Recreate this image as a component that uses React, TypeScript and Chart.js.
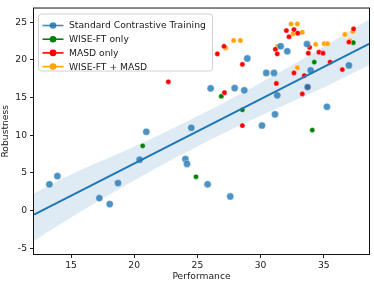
import React, { useEffect, useRef } from "react";
import { Chart, registerables } from "chart.js";

Chart.register(...registerables);

// Standard Contrastive Training
const sctX = [13.29, 13.92, 17.24, 18.06, 18.72, 20.43, 20.96, 24.05, 24.18, 24.52, 25.81, 26.05, 27.6, 27.95, 28.71, 28.95, 30.11, 30.45, 31.06, 31.14, 31.32, 31.59, 32.11, 33.67, 33.72, 33.96, 35.25, 36.99];
const sctY = [3.49, 4.58, 1.66, 0.87, 3.66, 6.76, 10.47, 6.85, 6.2, 11.0, 3.49, 16.23, 1.88, 16.27, 15.97, 20.2, 11.3, 18.28, 18.28, 12.78, 15.31, 21.82, 21.16, 22.12, 16.4, 18.63, 13.79, 19.28];
// WISE-FT only
const wiseX = [20.67, 24.89, 26.89, 28.56, 34.09, 34.25, 37.34];
const wiseY = [8.6, 4.49, 15.18, 13.39, 10.69, 19.72, 22.3];
// MASD only
const masdX = [22.7, 26.58, 27.11, 27.14, 28.56, 28.56, 31.17, 31.25, 31.32, 32.04, 32.25, 32.64, 32.64, 32.94, 33.3, 33.46, 33.72, 33.78, 33.88, 34.62, 34.94, 35.5, 36.47, 36.99, 37.36];
const masdY = [17.1, 20.81, 21.82, 15.66, 19.42, 11.3, 21.42, 16.88, 20.81, 23.91, 23.08, 24.04, 18.28, 23.56, 15.49, 17.93, 16.4, 20.9, 21.68, 21.03, 20.9, 19.72, 18.72, 22.38, 24.13];
// WISE-FT + MASD
const bothX = [27.24, 27.87, 28.4, 31.35, 32.41, 32.57, 32.91, 32.91, 33.3, 34.36, 35.04, 35.3, 36.67, 37.07, 37.3];
const bothY = [21.6, 22.6, 22.6, 21.8, 24.78, 23.47, 24.78, 18.98, 23.69, 22.08, 22.16, 22.16, 23.39, 22.56, 23.78];

// regression line and confidence band
const fitX = [12.07, 38.58];
const fitY = [-0.52, 22.12];
const bandX = [12.07, 15, 20, 25, 30, 35, 38.58];
const bandUpper = [2.28, 4.78, 8.5, 12.52, 16.99, 21.76, 25.42];
const bandLower = [-4.02, -0.92, 4.0, 8.52, 12.59, 16.36, 19.32];

const xTicks = [15, 20, 25, 30, 35];
const yTicks = [-5, 0, 5, 10, 15, 20, 25];
const xRange = [12.07, 38.58];
const yRange = [-5.76, 26.83];

const legendLabels = ["Standard Contrastive Training", "WISE-FT only", "MASD only", "WISE-FT + MASD"];
const legendColors = ["rgba(31,119,180,0.85)", "#008000", "#ff0000", "#ffa500"];

const FONT = "DejaVu Sans";
const FS = 9.2;

const zip = (xs: number[], ys: number[]) => xs.map((x, i) => ({ x, y: ys[i] }));

const framePlugin = {
  id: "frameLegend",
  afterDraw(chart: any) {
    const { ctx, chartArea } = chart;
    const { left, top, right, bottom } = chartArea;
    ctx.save();
    ctx.strokeStyle = "#111";
    ctx.lineWidth = 1;
    ctx.strokeRect(left - 0.5, top - 0.5, right - left + 1, bottom - top + 1);

    // legend
    const bx = left + 4.5, by = top + 5.5, bw = 174, bh = 57, r = 3;
    ctx.beginPath();
    ctx.moveTo(bx + r, by);
    ctx.lineTo(bx + bw - r, by);
    ctx.arcTo(bx + bw, by, bx + bw, by + r, r);
    ctx.lineTo(bx + bw, by + bh - r);
    ctx.arcTo(bx + bw, by + bh, bx + bw - r, by + bh, r);
    ctx.lineTo(bx + r, by + bh);
    ctx.arcTo(bx, by + bh, bx, by + bh - r, r);
    ctx.lineTo(bx, by + r);
    ctx.arcTo(bx, by, bx + r, by, r);
    ctx.closePath();
    ctx.fillStyle = "rgba(255,255,255,0.85)";
    ctx.fill();
    ctx.strokeStyle = "#d0d0d0";
    ctx.stroke();

    ctx.font = `${FS}px "${FONT}"`;
    ctx.textBaseline = "middle";
    ctx.textAlign = "left";
    legendLabels.forEach((lab, i) => {
      const yy = by + 11.5 + i * 13.7;
      ctx.strokeStyle = legendColors[i];
      ctx.lineWidth = 1.6;
      ctx.beginPath();
      ctx.moveTo(bx + 4, yy);
      ctx.lineTo(bx + 25, yy);
      ctx.stroke();
      ctx.fillStyle = legendColors[i];
      ctx.beginPath();
      ctx.arc(bx + 14.5, yy, 3.3, 0, Math.PI * 2);
      ctx.fill();
      ctx.fillStyle = "#1a1a1a";
      ctx.fillText(lab, bx + 30.5, yy + 0.5);
    });
    ctx.restore();
  },
};

export default function App() {
  const ref = useRef<HTMLCanvasElement | null>(null);
  useEffect(() => {
    document.body.style.margin = "0";
    if (!ref.current) return;
    const scatterDs = (label: string, xs: number[], ys: number[], color: string, radius: number) => ({
      type: "scatter" as const,
      label,
      data: zip(xs, ys),
      backgroundColor: color,
      borderColor: "rgba(255,255,255,0.8)",
      borderWidth: 0.5,
      pointRadius: radius,
      pointHoverRadius: radius,
    });
    const chart = new Chart(ref.current, {
      type: "scatter",
      data: {
        datasets: [
          {
            type: "line",
            label: "fit",
            data: zip(fitX, fitY),
            borderColor: "#1f77b4",
            borderWidth: 2,
            pointRadius: 0,
            fill: false,
          } as any,
          scatterDs(legendLabels[0], sctX, sctY, "rgba(31,119,180,0.8)", 3.6),
          scatterDs(legendLabels[2], masdX, masdY, "#ff0000", 2.6),
          scatterDs(legendLabels[1], wiseX, wiseY, "#008000", 2.6),
          scatterDs(legendLabels[3], bothX, bothY, "#ffa500", 2.6),
          {
            type: "line",
            label: "upper",
            data: zip(bandX, bandUpper),
            borderWidth: 0,
            borderColor: "rgba(0,0,0,0)",
            backgroundColor: "rgba(31,119,180,0.15)",
            pointRadius: 0,
            tension: 0.4,
            fill: "+1",
          } as any,
          {
            type: "line",
            label: "lower",
            data: zip(bandX, bandLower),
            borderWidth: 0,
            borderColor: "rgba(0,0,0,0)",
            pointRadius: 0,
            tension: 0.4,
            fill: false,
          } as any,
        ],
      },
      options: {
        responsive: false,
        animation: false,
        events: [],
        layout: { padding: { left: 0, top: 5, right: 5, bottom: 0 } },
        plugins: { legend: { display: false }, tooltip: { enabled: false } },
        scales: {
          x: {
            type: "linear",
            min: xRange[0],
            max: xRange[1],
            afterBuildTicks: (axis: any) => {
              axis.ticks = xTicks.map((v) => ({ value: v }));
            },
            afterFit: (axis: any) => {
              axis.height = 30;
            },
            border: { display: false },
            grid: { drawOnChartArea: false, drawTicks: true, tickLength: 4, color: "#222", lineWidth: 1 },
            ticks: { color: "#1a1a1a", font: { family: FONT, size: FS }, padding: 2, maxRotation: 0 },
            title: {
              display: true,
              text: "Performance",
              color: "#1a1a1a",
              font: { family: FONT, size: FS },
              padding: { top: 0, bottom: 1.5 },
            },
          },
          y: {
            type: "linear",
            min: yRange[0],
            max: yRange[1],
            afterBuildTicks: (axis: any) => {
              axis.ticks = yTicks.map((v) => ({ value: v }));
            },
            afterFit: (axis: any) => {
              axis.width = 34;
            },
            border: { display: false },
            grid: { drawOnChartArea: false, drawTicks: true, tickLength: 4, color: "#222", lineWidth: 1 },
            ticks: { color: "#1a1a1a", font: { family: FONT, size: FS }, padding: 3 },
            title: {
              display: true,
              text: "Robustness",
              color: "#1a1a1a",
              font: { family: FONT, size: FS },
              padding: { top: 0, bottom: 0 },
            },
          },
        },
      },
      plugins: [framePlugin],
    });
    return () => chart.destroy();
  }, []);
  return (
    <div style={{ width: 374, height: 284 }}>
      <canvas ref={ref} width={374} height={284} style={{ display: "block" }} />
    </div>
  );
}
